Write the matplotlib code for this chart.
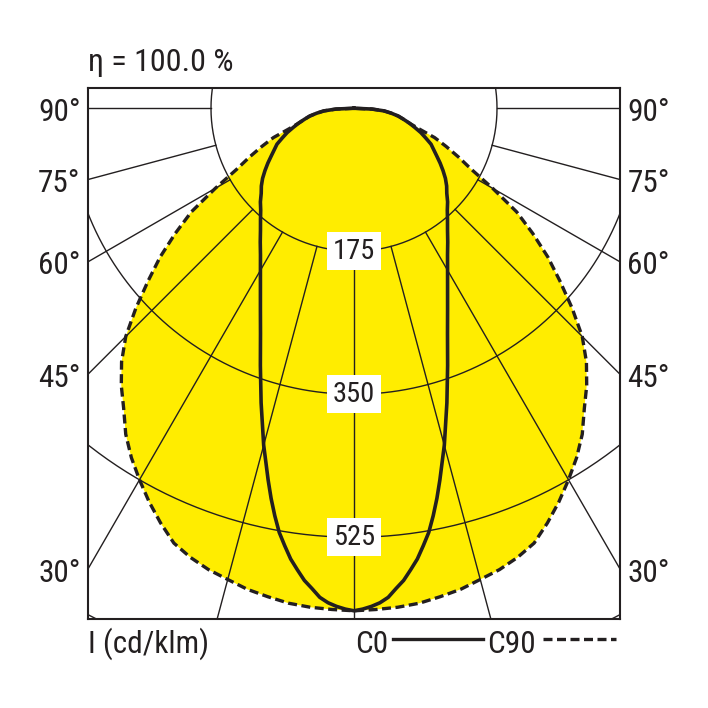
import numpy as np
import matplotlib.pyplot as plt
from matplotlib import font_manager as fm
from matplotlib.lines import Line2D


def pick_condensed_font():
    """Return (family, stretch, size factor) of the narrowest sans available."""
    entries = fm.fontManager.ttflist
    names = {f.name for f in entries}
    for fam in ["Liberation Sans Narrow", "Arial Narrow", "Roboto Condensed",
                "Open Sans Condensed", "Noto Sans Condensed"]:
        if fam in names:
            return fam, "normal", 1.0
    for fam in ["DejaVu Sans", "Noto Sans", "Open Sans", "Roboto"]:
        for f in entries:
            if f.name == fam and str(f.stretch) in ("condensed", "semi-condensed",
                                                    "extra-condensed"):
                return fam, str(f.stretch), 0.95
    return "Liberation Sans", "normal", 0.9


FONT, STRETCH, FS = pick_condensed_font()
plt.rcParams['font.family'] = [FONT, 'DejaVu Sans']
plt.rcParams['font.stretch'] = STRETCH

# Luminous intensity (cd/klm) vs. angle from nadir, one half (curves are symmetric)
c0_gamma = [0, 1, 2, 3, 4, 5, 6, 7, 8, 9, 10, 11, 12, 13, 14, 15, 17.5, 20, 22.5,
            25, 27.5, 30, 32.5, 35, 37.5, 40, 42.5, 45, 47.5, 50, 52.5, 55, 57.5,
            60, 62.5, 65, 67.5, 70, 72.5, 75, 77.5, 80, 82.5, 85, 87.5, 90]
c0_int = [615, 613, 610, 606, 600, 590, 581, 569, 557, 542, 527, 508, 488, 467, 446,
          427, 378, 335, 299, 271, 248, 229, 213, 200, 188, 178, 169, 162, 154, 148,
          141, 133, 125, 117, 110, 104, 95, 87, 78, 70, 62, 55, 46, 37, 22, 0]

c90_gamma = [0, 2.5, 5, 7.5, 10, 12.5, 15, 17.5, 20, 22.5, 25, 27.5, 30, 32.5, 35,
             37.5, 40, 42.5, 45, 47.5, 50, 52.5, 55, 57.5, 60, 62.5, 65, 67.5, 70,
             72.5, 75, 77.5, 80, 82.5, 85, 87.5, 90]
c90_int = [615, 614, 613, 611, 607, 603, 597, 592, 585, 576, 560, 543, 525, 507, 487,
           463, 443, 421, 395, 362, 329, 299, 267, 236, 196, 162, 141, 122, 105,
           83, 70, 62, 55, 46, 37, 22, 0]

rings = [175, 350, 525, 700]
ring_labels = [175, 350, 525]
spokes_deg = list(range(0, 360, 15))
side_angles = [90, 75, 60, 45, 30]
eta_text = "η = 100.0 %"
unit_text = "I (cd/klm)"
series_names = ["C0", "C90"]

YELLOW = "#FFED00"
INK = "#231F20"
DASH = (0, (2.7, 1.35))

# frame in cd/klm (origin = luminaire, y grows downward)
HALF_W = 325.5
Y_TOP = -24.8
Y_BOT = 625.4


def to_xy(gdeg, r):
    g = np.radians(np.asarray(gdeg, dtype=float))
    r = np.asarray(r, dtype=float)
    return r * np.sin(g), r * np.cos(g)


def mirrored(gdeg, r):
    g = np.asarray(gdeg, dtype=float)
    r = np.asarray(r, dtype=float)
    return np.concatenate([-g[::-1], g[1:]]), np.concatenate([r[::-1], r[1:]])


fig = plt.figure(figsize=(7.08, 7.08), dpi=100)
fig.patch.set_facecolor("white")
ax = fig.add_axes([88 / 708, (708 - 619.3) / 708, 532 / 708, 531.3 / 708])
ax.set_xlim(-HALF_W, HALF_W)
ax.set_ylim(Y_BOT, Y_TOP)
ax.set_xticks([])
ax.set_yticks([])
for sp in ax.spines.values():
    sp.set_color(INK)
    sp.set_linewidth(1.5)
    sp.set_zorder(5)

x0, y0 = to_xy(*mirrored(c0_gamma, c0_int))
x90, y90 = to_xy(*mirrored(c90_gamma, c90_int))

# yellow area
ax.fill(x90, y90, color=YELLOW, lw=0, zorder=1)
ax.fill(x0, y0, color=YELLOW, lw=0, zorder=1)

# grid: rings and spokes (spokes start at the first ring)
t = np.linspace(0, 360, 721)
for R in rings:
    rx, ry = to_xy(t, np.full_like(t, R))
    ax.plot(rx, ry, color=INK, lw=1.0, zorder=2)
for a in spokes_deg:
    sx, sy = to_xy([a, a], [rings[0], 2000])
    ax.plot(sx, sy, color=INK, lw=1.0, zorder=2)

# curves
ax.plot(x0, y0, color=INK, lw=2.6, zorder=3, solid_joinstyle="round")
ax.plot(x90, y90, color=INK, lw=2.4, ls=DASH, zorder=3)

for R in ring_labels:
    ax.text(0, R, str(R), ha="center", va="center", fontsize=20.5 * FS, color=INK,
            bbox=dict(boxstyle="square,pad=0.2", fc="white", ec="none"), zorder=4)

# angle labels on both sides, where the spokes meet the frame
for a in side_angles:
    yy = HALF_W / np.tan(np.radians(a)) + 5
    ax.text(-HALF_W - 9, yy, f"{a}°", ha="right", va="center", fontsize=22.5 * FS,
            color=INK, clip_on=False)
    ax.text(HALF_W + 9, yy, f"{a}°", ha="left", va="center", fontsize=22.5 * FS,
            color=INK, clip_on=False)

fig.text(88 / 708, 1 - 71 / 708, eta_text, ha="left", va="baseline",
         fontsize=23 * FS, color=INK)
fig.text(88 / 708, 1 - 653 / 708, unit_text, ha="left", va="baseline",
         fontsize=22.5 * FS, color=INK)
fig.text(355 / 708, 1 - 653 / 708, series_names[0], ha="left", va="baseline",
         fontsize=22.5 * FS, color=INK)
fig.text(487 / 708, 1 - 653 / 708, series_names[1], ha="left", va="baseline",
         fontsize=22.5 * FS, color=INK)

ly = 1 - 639.3 / 708
fig.add_artist(Line2D([393 / 708, 483 / 708], [ly, ly], color=INK, lw=2.4,
                      transform=fig.transFigure))
fig.add_artist(Line2D([543 / 708, 616 / 708], [ly, ly], color=INK, lw=2.4,
                      ls=DASH, transform=fig.transFigure))

fig.savefig("out.png", dpi=100, facecolor="white")
